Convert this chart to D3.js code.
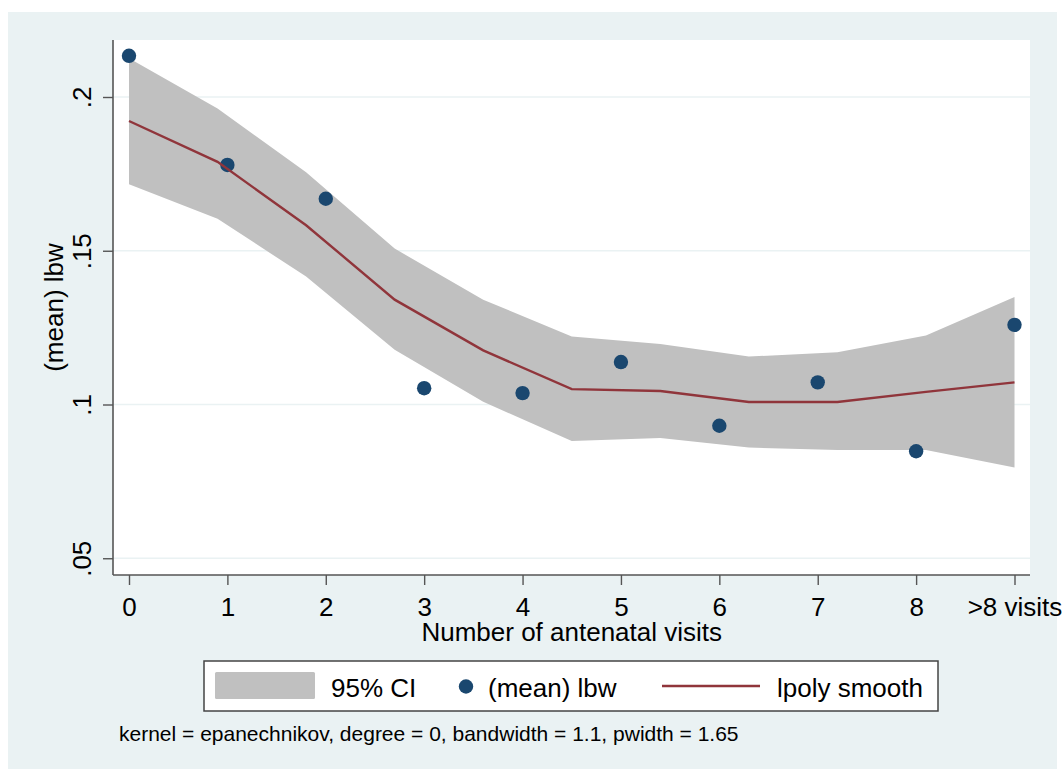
<!DOCTYPE html>
<html>
<head>
<meta charset="utf-8">
<script src="https://cdn.jsdelivr.net/npm/d3@7"></script>
<style>
  html, body { margin: 0; padding: 0; background: #ffffff; }
  svg { display: block; font-family: "Liberation Sans", Arial, sans-serif; }
</style>
</head>
<body>
<svg id="chart" width="1064" height="769"></svg>
<script>
// Antenatal visit categories (x positions 0..9)
const categories = ["0", "1", "2", "3", "4", "5", "6", "7", "8", ">8 visits"];
// Mean low-birth-weight share per category
const meanLbw = [0.2134, 0.1779, 0.1669, 0.1053, 0.1037, 0.1138, 0.0931, 0.1072, 0.0848, 0.1259];
// lpoly evaluation grid and estimates
const gridX   = [0, 0.9, 1.8, 2.7, 3.6, 4.5, 5.4, 6.3, 7.2, 8.1, 9];
const smooth  = [0.1922, 0.1789, 0.1583, 0.1341, 0.1176, 0.1050, 0.1044, 0.1008, 0.1008, 0.1041, 0.1072];
const ciUpper = [0.2126, 0.1963, 0.1755, 0.1507, 0.1341, 0.1221, 0.1197, 0.1156, 0.1170, 0.1224, 0.1350];
const ciLower = [0.1716, 0.1604, 0.1416, 0.1178, 0.1009, 0.0881, 0.0891, 0.0860, 0.0852, 0.0852, 0.0795];
// Y axis ticks
const yTicks = [0.05, 0.1, 0.15, 0.2];
const yTickLabels = [".05", ".1", ".15", ".2"];
const noteText = "kernel = epanechnikov, degree = 0, bandwidth = 1.1, pwidth = 1.65";

const BG = "#EAF2F3", CI = "#C0C0C0", DOT = "#1A476F", LINE = "#90353B", AXIS = "#555555";
const FONT = 26;

const svg = d3.select("#chart");

// outer graph region
svg.append("rect").attr("x", 8).attr("y", 12).attr("width", 1049).attr("height", 757).attr("fill", BG);

// plot region
const plot = { left: 113, right: 1030, top: 40, bottom: 575 };
svg.append("rect")
  .attr("x", plot.left).attr("y", plot.top)
  .attr("width", plot.right - plot.left).attr("height", plot.bottom - plot.top)
  .attr("fill", "#ffffff");

const x = d3.scaleLinear().domain([0, 9]).range([129, 1014.5]);
const y = d3.scaleLinear().domain([0.05, 0.2]).range([558.25, 97]);

// horizontal grid lines
svg.append("g").selectAll("line").data(yTicks).join("line")
  .attr("x1", plot.left).attr("x2", plot.right)
  .attr("y1", d => y(d)).attr("y2", d => y(d))
  .attr("stroke", BG).attr("stroke-width", 1.5);

// confidence band
const ciData = gridX.map((g, i) => ({ x: g, lo: ciLower[i], hi: ciUpper[i], s: smooth[i] }));
svg.append("path").datum(ciData)
  .attr("fill", CI)
  .attr("d", d3.area().x(d => x(d.x)).y0(d => y(d.lo)).y1(d => y(d.hi)));

// means
svg.append("g").selectAll("circle").data(meanLbw).join("circle")
  .attr("cx", (d, i) => x(i)).attr("cy", d => y(d)).attr("r", 7.2)
  .attr("fill", DOT);

// smooth
svg.append("path").datum(ciData)
  .attr("fill", "none").attr("stroke", LINE).attr("stroke-width", 2.4)
  .attr("d", d3.line().x(d => x(d.x)).y(d => y(d.s)));

// Y axis
const yAxis = svg.append("g").attr("transform", `translate(${plot.left},0)`)
  .call(d3.axisLeft(y).tickValues(yTicks).tickFormat((d, i) => yTickLabels[i]).tickSize(10).tickPadding(0));
yAxis.select(".domain").attr("d", `M0,${plot.top}V${plot.bottom}`).attr("stroke", AXIS).attr("stroke-width", 1.6);
yAxis.selectAll(".tick line").attr("stroke", AXIS).attr("stroke-width", 1.4);
yAxis.selectAll(".tick text")
  .attr("x", null).attr("dy", null)
  .attr("transform", "translate(-22,0) rotate(-90)")
  .attr("text-anchor", "middle")
  .attr("font-size", FONT).attr("font-family", "Liberation Sans, Arial, sans-serif")
  .attr("fill", "#000");

// X axis
const xAxis = svg.append("g").attr("transform", `translate(0,${plot.bottom})`)
  .call(d3.axisBottom(x).tickValues(d3.range(categories.length)).tickFormat(i => categories[i]).tickSize(10).tickPadding(0));
xAxis.select(".domain").attr("d", `M${plot.left},0H${plot.right}`).attr("stroke", AXIS).attr("stroke-width", 1.6);
xAxis.selectAll(".tick line").attr("stroke", AXIS).attr("stroke-width", 1.4);
xAxis.selectAll(".tick text")
  .attr("y", 41).attr("dy", null)
  .attr("font-size", FONT).attr("font-family", "Liberation Sans, Arial, sans-serif")
  .attr("fill", "#000");

// axis titles
svg.append("text")
  .attr("x", (x(0) + x(9)) / 2).attr("y", 641)
  .attr("text-anchor", "middle").attr("font-size", FONT)
  .text("Number of antenatal visits");
svg.append("text")
  .attr("transform", `translate(63,${(plot.top + plot.bottom) / 2}) rotate(-90)`)
  .attr("text-anchor", "middle").attr("font-size", FONT)
  .text("(mean) lbw");

// legend
const lg = svg.append("g");
lg.append("rect").attr("x", 204).attr("y", 661).attr("width", 734).attr("height", 50)
  .attr("fill", "#ffffff").attr("stroke", "#444").attr("stroke-width", 1.5);
lg.append("rect").attr("x", 215).attr("y", 672).attr("width", 100).attr("height", 27)
  .attr("rx", 1.5).attr("fill", CI);
lg.append("text").attr("x", 331).attr("y", 697).attr("font-size", FONT).text("95% CI");
lg.append("circle").attr("cx", 466).attr("cy", 686.5).attr("r", 7.2).attr("fill", DOT);
lg.append("text").attr("x", 488).attr("y", 697).attr("font-size", FONT).text("(mean) lbw");
lg.append("line").attr("x1", 662).attr("x2", 760).attr("y1", 686).attr("y2", 686)
  .attr("stroke", LINE).attr("stroke-width", 2.4);
lg.append("text").attr("x", 777).attr("y", 697).attr("font-size", FONT).text("lpoly smooth");

// note
svg.append("text").attr("x", 119).attr("y", 741).attr("font-size", 21).text(noteText);
</script>
</body>
</html>
